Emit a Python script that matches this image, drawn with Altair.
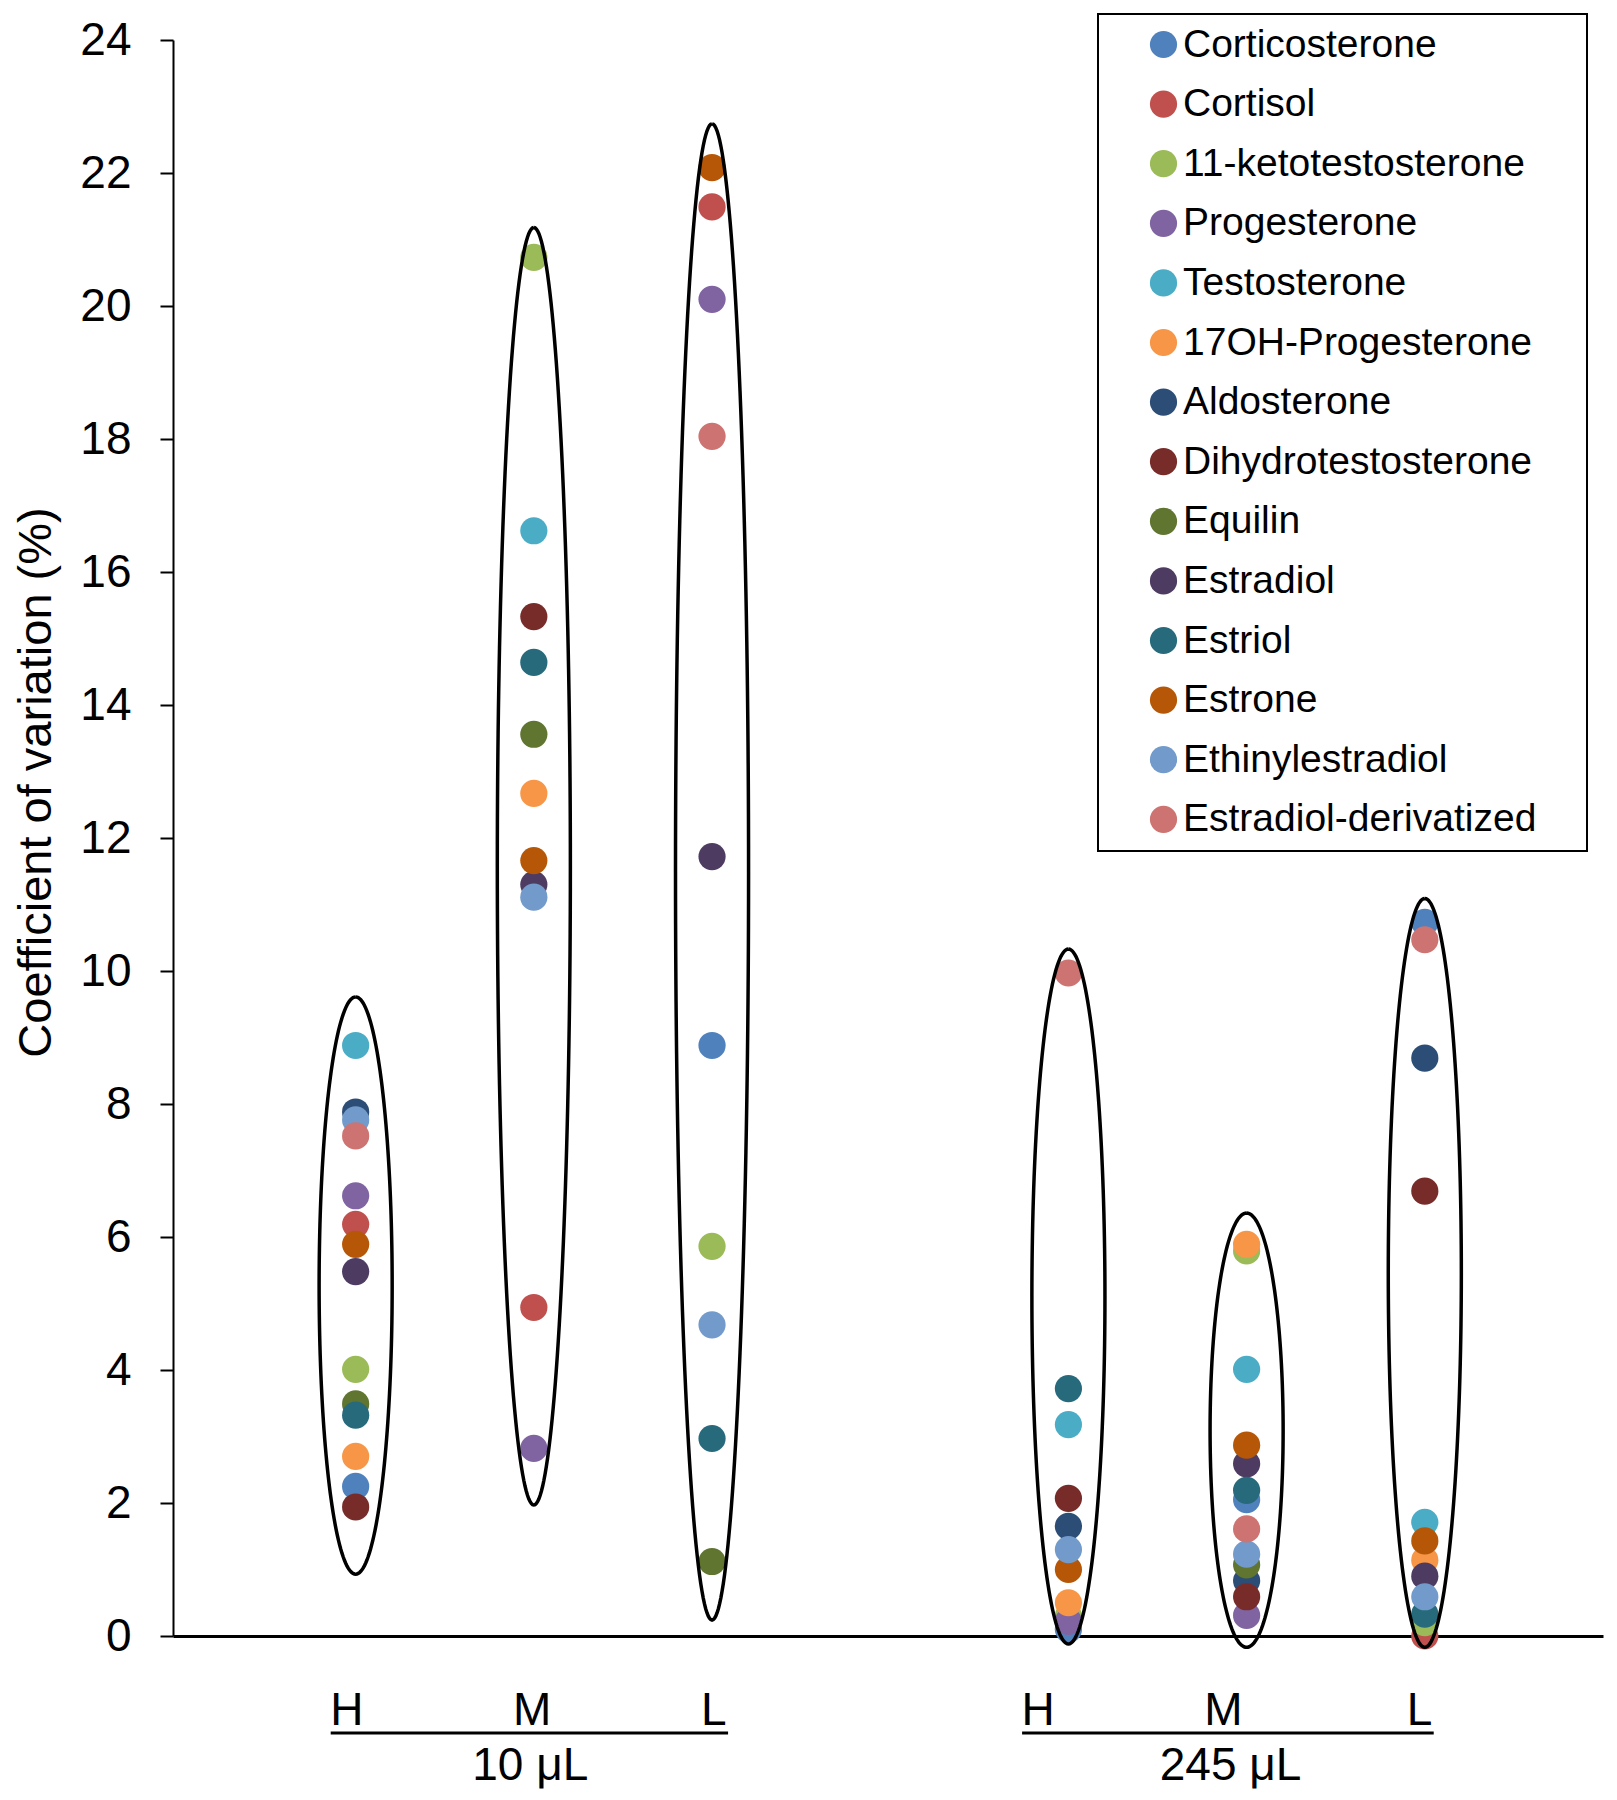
import altair as alt
import pandas as pd
import numpy as np

# ---- data ----
compounds = ["Corticosterone", "Cortisol", "11-ketotestosterone", "Progesterone",
             "Testosterone", "17OH-Progesterone", "Aldosterone", "Dihydrotestosterone",
             "Equilin", "Estradiol", "Estriol", "Estrone", "Ethinylestradiol",
             "Estradiol-derivatized"]
colors = ["#4F81BD", "#C0504D", "#9BBB59", "#8064A2", "#4BACC6", "#F79646", "#2C4D75",
          "#772C2A", "#5F7530", "#4D3B62", "#276A7C", "#B65708", "#729ACA", "#CD7371"]

category_pos = [1, 2, 3, 5, 6, 7]
level_labels = ["H", "M", "L", "H", "M", "L"]
level_label_pos = [0.95, 1.99, 3.01, 4.83, 5.87, 6.97]
volume_labels = ["10 μL", "245 μL"]
volume_label_pos = [1.98, 5.91]
volume_line_start = [0.86, 4.74]
volume_line_end = [3.09, 7.05]

# CV (%) per compound (in the compound order above) for each category
cv_10_H = [2.25, 6.19, 4.01, 6.62, 8.88, 2.70, 7.88, 1.94, 3.49, 5.48, 3.32, 5.89, 7.76, 7.52]
cv_10_M = [None, 4.94, 20.73, 2.82, 16.62, 12.67, None, 15.33, 13.56, 11.30, 14.64, 11.66, 11.11, None]
cv_10_L = [8.88, 21.49, 5.86, 20.10, None, None, None, None, 1.12, 11.72, 2.97, 22.08, 4.68, 18.04]
cv_245_H = [0.10, None, 0.30, 0.22, 3.18, 0.50, 1.65, 2.07, None, None, 3.72, 1.00, 1.30, 9.97]
cv_245_M = [2.05, None, 5.79, 0.31, 4.01, 5.89, 0.83, 0.59, 1.07, 2.59, 2.19, 2.87, 1.23, 1.61]
cv_245_L = [10.73, 0.00, 0.20, None, 1.71, 1.14, 8.69, 6.69, None, 0.90, 0.33, 1.43, 0.59, 10.47]
cv_by_category = [cv_10_H, cv_10_M, cv_10_L, cv_245_H, cv_245_M, cv_245_L]

# vertical extent of the hand-drawn ellipses around each category (in % units)
ellipse_top = [9.61, 21.18, 22.74, 10.33, 6.36, 11.09]
ellipse_bottom = [0.93, 1.97, 0.24, -0.12, -0.17, -0.17]
ellipse_halfwidth = 0.205  # in x-axis units

# ---- tables ----
rows = []
for j, comp in enumerate(compounds):
    for i, vals in enumerate(cv_by_category):
        v = vals[j]
        if v is not None:
            rows.append({"compound": comp, "x": category_pos[i], "cv": v})
points_df = pd.DataFrame(rows)

erows = []
angles = np.linspace(0, 2 * np.pi, 181)
for i in range(len(category_pos)):
    cy = (ellipse_top[i] + ellipse_bottom[i]) / 2
    ry = (ellipse_top[i] - ellipse_bottom[i]) / 2
    for k, a in enumerate(angles):
        erows.append({"cat": i, "k": k,
                      "x": category_pos[i] + ellipse_halfwidth * np.sin(a),
                      "cv": cy + ry * np.cos(a)})
ellipse_df = pd.DataFrame(erows)

levels_df = pd.DataFrame({"x": level_label_pos, "label": level_labels})
volumes_df = pd.DataFrame({"x": volume_label_pos, "label": volume_labels,
                           "x1": volume_line_start, "x2": volume_line_end})

FONT = "Liberation Sans"
xscale = alt.Scale(domain=[-0.025, 8], nice=False, zero=False)
yscale = alt.Scale(domain=[0, 24], nice=False)

xaxis = alt.Axis(title=None, labels=False, ticks=False, grid=False,
                 domainColor="black", domainWidth=3)
yaxis = alt.Axis(title="Coefficient of variation (%)", values=list(range(0, 25, 2)),
                 grid=False, domainColor="black", domainWidth=2,
                 tickColor="black", tickWidth=2, tickSize=13,
                 labelFont=FONT, labelFontSize=46, labelColor="black",
                 labelPadding=29,
                 titleFont=FONT, titleFontSize=47, titleFontWeight="normal",
                 titleColor="black", titleAngle=-90, titleX=-137, titleY=742,
                 titleAlign="center", titleBaseline="middle")

points = alt.Chart(points_df).mark_circle(size=740, opacity=1).encode(
    x=alt.X("x:Q", scale=xscale, axis=xaxis),
    y=alt.Y("cv:Q", scale=yscale, axis=yaxis),
    color=alt.Color("compound:N", sort=compounds,
                    scale=alt.Scale(domain=compounds, range=colors),
                    legend=alt.Legend(orient="none", legendX=925, legendY=-26,
                                      title=" ", titleOrient="right", titleFontSize=39,
                                      titlePadding=40,
                                      symbolType="circle", symbolSize=740,
                                      symbolStrokeWidth=0, symbolOpacity=1,
                                      labelFont=FONT, labelFontSize=39, labelColor="black",
                                      labelLimit=1000, labelOffset=0, symbolOffset=35,
                                      rowPadding=19.6, padding=11,
                                      strokeColor="black", fillColor="white")),
)

ellipses = alt.Chart(ellipse_df).mark_line(color="black", strokeWidth=3.5).encode(
    x=alt.X("x:Q", scale=xscale, axis=xaxis),
    y=alt.Y("cv:Q", scale=yscale, axis=yaxis),
    detail="cat:N",
    order="k:Q",
)

level_text = alt.Chart(levels_df).mark_text(
    font=FONT, fontSize=46, color="black", align="center", baseline="alphabetic"
).encode(x=alt.X("x:Q", scale=xscale, axis=xaxis), y=alt.value(1685), text="label:N")

underline = alt.Chart(volumes_df).mark_rule(color="black", strokeWidth=3).encode(
    x=alt.X("x1:Q", scale=xscale, axis=xaxis), x2="x2:Q", y=alt.value(1693)
)

volume_text = alt.Chart(volumes_df).mark_text(
    font=FONT, fontSize=46, color="black", align="center", baseline="alphabetic"
).encode(x=alt.X("x:Q", scale=xscale, axis=xaxis), y=alt.value(1740), text="label:N")

chart = alt.layer(points, ellipses, level_text, underline, volume_text).properties(
    width=1430, height=1596,
    padding={"left": 165, "top": 32, "right": 6, "bottom": 160},
    autosize=alt.AutoSizeParams(type="none"),
    background="white",
).configure_view(stroke=None).configure_legend(strokeWidth=2)

chart.save("out.html", embed_options={"renderer": "svg", "actions": False})
